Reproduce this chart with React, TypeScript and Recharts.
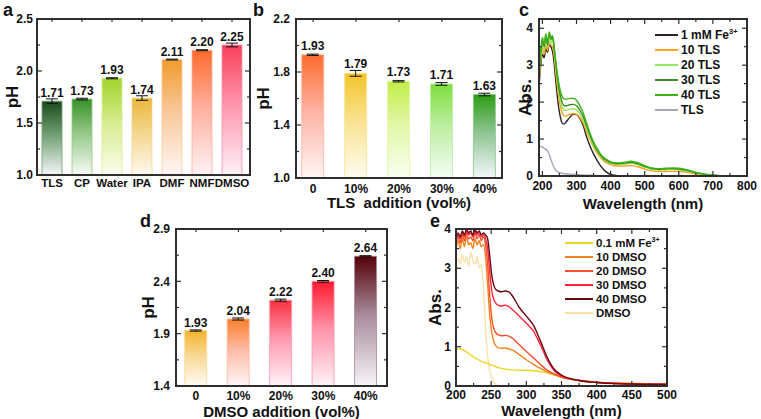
import React from "react";
import {
  BarChart,
  Bar,
  LineChart,
  Line,
  XAxis,
  YAxis,
  ErrorBar,
  LabelList,
  Cell,
  Legend,
} from "recharts";

const FONT = '"Liberation Sans", Arial, Helvetica, sans-serif';
const INK = "#111";
const FRAME = "#2e2e2e";

// a: pH of Fe3+ solution in different solvents
const SOLVENTS = ["TLS", "CP", "Water", "IPA", "DMF", "NMF", "DMSO"];
const SOLVENT_PH = [1.71, 1.73, 1.93, 1.74, 2.11, 2.2, 2.25];
const SOLVENT_ERR = [0.022, 0.008, 0.005, 0.022, 0.004, 0.005, 0.018];

// b, d: pH against co-solvent addition
const ADDITION = ["0", "10%", "20%", "30%", "40%"];
const TLS_PH = [1.93, 1.79, 1.73, 1.71, 1.63];
const TLS_ERR = [0.005, 0.022, 0.005, 0.01, 0.01];
const DMSO_PH = [1.93, 2.04, 2.22, 2.4, 2.64];
const DMSO_ERR = [0.006, 0.01, 0.01, 0.008, 0.005];

// c: UV-vis, 1 mM Fe3+ with TLS
const WL_C = [190, 195, 200, 205, 210, 215, 220, 225, 230, 235, 240, 245, 250, 255, 260, 265, 270, 280, 290, 300, 310, 320, 330, 340, 350, 360, 370, 380, 390, 400, 420, 440, 460, 480, 500, 520, 540, 560, 580, 600, 620, 640, 660, 680, 700, 720, 750, 800];
const FE_1MM = [2.4, 3.0, 3.3, 3.2, 3.45, 3.35, 3.55, 3.5, 3.35, 3.0, 2.5, 2.05, 1.72, 1.5, 1.41, 1.42, 1.47, 1.58, 1.67, 1.66, 1.55, 1.35, 1.05, 0.8, 0.6, 0.43, 0.28, 0.17, 0.09, 0.04, 0.01, 0, 0, 0, 0, 0, 0, 0, 0, 0, 0, 0, 0, 0, 0, 0, 0, 0];
const TLS_10 = [2.5, 3.1, 3.45, 3.3, 3.55, 3.4, 3.6, 3.55, 3.5, 3.2, 2.75, 2.35, 2.02, 1.8, 1.66, 1.62, 1.63, 1.67, 1.69, 1.67, 1.58, 1.42, 1.2, 0.98, 0.78, 0.62, 0.5, 0.41, 0.35, 0.31, 0.27, 0.27, 0.28, 0.25, 0.19, 0.14, 0.12, 0.12, 0.13, 0.12, 0.1, 0.07, 0.04, 0.02, 0.01, 0.01, 0.01, 0.01];
const TLS_20 = [2.6, 3.2, 3.55, 3.4, 3.7, 3.5, 3.75, 3.6, 3.7, 3.35, 2.9, 2.5, 2.18, 1.95, 1.83, 1.78, 1.78, 1.81, 1.82, 1.79, 1.68, 1.5, 1.27, 1.04, 0.83, 0.67, 0.54, 0.45, 0.39, 0.34, 0.31, 0.32, 0.34, 0.31, 0.24, 0.18, 0.16, 0.17, 0.18, 0.17, 0.14, 0.1, 0.06, 0.03, 0.02, 0.01, 0.01, 0.01];
const TLS_30 = [2.7, 3.3, 3.65, 3.5, 3.8, 3.55, 3.85, 3.7, 3.75, 3.4, 3.0, 2.6, 2.3, 2.08, 1.95, 1.9, 1.9, 1.93, 1.94, 1.9, 1.78, 1.6, 1.35, 1.1, 0.88, 0.71, 0.57, 0.47, 0.41, 0.36, 0.33, 0.35, 0.37, 0.33, 0.26, 0.2, 0.18, 0.19, 0.2, 0.19, 0.16, 0.11, 0.07, 0.04, 0.02, 0.01, 0.01, 0.01];
const TLS_40 = [2.8, 3.4, 3.75, 3.55, 3.85, 3.6, 3.9, 3.75, 3.8, 3.45, 3.05, 2.7, 2.42, 2.22, 2.12, 2.08, 2.08, 2.1, 2.1, 2.05, 1.9, 1.7, 1.42, 1.15, 0.92, 0.75, 0.6, 0.5, 0.44, 0.38, 0.35, 0.37, 0.4, 0.36, 0.28, 0.22, 0.2, 0.21, 0.22, 0.21, 0.18, 0.13, 0.08, 0.04, 0.02, 0.01, 0.01, 0.01];
const TLS_ONLY = [0.82, 0.8, 0.78, 0.75, 0.72, 0.68, 0.58, 0.45, 0.32, 0.22, 0.15, 0.11, 0.09, 0.08, 0.07, 0.06, 0.06, 0.05, 0.04, 0.04, 0.03, 0.03, 0.02, 0.02, 0.02, 0.01, 0.01, 0.01, 0.01, 0.01, 0.01, 0, 0, 0, 0, 0, 0, 0, 0, 0, 0, 0, 0, 0, 0, 0, 0, 0];
const C_NAMES = ["1 mM Fe3+", "10 TLS", "20 TLS", "30 TLS", "40 TLS", "TLS"];
const C_COLORS = ["#2e2424", "#ffa21f", "#92e860", "#3e8a26", "#3cb216", "#aaa4bc"];

// e: UV-vis, 0.1 mM Fe3+ with DMSO
const WL_E = [200, 203, 206, 209, 212, 215, 218, 221, 224, 227, 230, 233, 236, 239, 242, 245, 248, 251, 254, 257, 260, 265, 270, 275, 280, 290, 300, 310, 320, 330, 340, 350, 375, 400, 425, 450, 475, 500];
const FE_01MM = [0.95, 0.94, 0.95, 0.93, 0.9, 0.87, 0.83, 0.79, 0.75, 0.72, 0.69, 0.66, 0.63, 0.61, 0.59, 0.57, 0.55, 0.53, 0.51, 0.49, 0.47, 0.45, 0.43, 0.42, 0.41, 0.4, 0.4, 0.39, 0.37, 0.33, 0.28, 0.22, 0.14, 0.1, 0.08, 0.07, 0.06, 0.05];
const DMSO_10 = [3.45, 3.7, 3.5, 3.75, 3.55, 3.8, 3.6, 3.65, 3.5, 3.75, 3.6, 3.7, 3.55, 3.6, 3.3, 2.6, 1.8, 1.35, 1.12, 1.02, 0.97, 0.96, 0.97, 0.95, 0.92, 0.8, 0.67, 0.55, 0.45, 0.36, 0.29, 0.23, 0.15, 0.1, 0.08, 0.06, 0.05, 0.05];
const DMSO_20 = [3.6, 3.8, 3.65, 3.85, 3.7, 3.9, 3.75, 3.8, 3.7, 3.9, 3.75, 3.85, 3.7, 3.8, 3.6, 3.1, 2.3, 1.7, 1.45, 1.35, 1.3, 1.28, 1.29, 1.27, 1.22, 1.05, 0.88, 0.72, 0.55, 0.4, 0.3, 0.23, 0.14, 0.1, 0.07, 0.06, 0.05, 0.05];
const DMSO_30 = [3.7, 3.85, 3.75, 3.9, 3.8, 3.95, 3.85, 3.9, 3.8, 3.95, 3.85, 3.9, 3.8, 3.85, 3.75, 3.5, 2.9, 2.4, 2.2, 2.1, 2.06, 2.04, 2.06, 2.02, 1.95, 1.78, 1.6, 1.4, 1.05, 0.65, 0.38, 0.26, 0.14, 0.09, 0.07, 0.05, 0.05, 0.04];
const DMSO_40 = [3.75, 3.9, 3.8, 3.95, 3.85, 4.0, 3.9, 3.95, 3.85, 4.0, 3.9, 3.95, 3.85, 3.9, 3.85, 3.75, 3.3, 2.8, 2.55, 2.45, 2.42, 2.4, 2.42, 2.4, 2.3, 2.0, 1.78, 1.55, 1.15, 0.72, 0.42, 0.28, 0.14, 0.09, 0.06, 0.05, 0.04, 0.04];
const DMSO_ONLY = [2.9, 3.25, 3.1, 3.35, 3.15, 3.3, 3.05, 3.4, 3.2, 3.1, 3.3, 3.0, 3.1, 2.5, 1.5, 0.75, 0.4, 0.22, 0.1, 0.03, 0, 0, 0, 0, 0, 0, 0, 0, 0, 0, 0, 0, 0, 0, 0, 0, 0, 0];
const E_NAMES = ["0.1 mM Fe3+", "10 DMSO", "20 DMSO", "30 DMSO", "40 DMSO", "DMSO"];
const E_COLORS = ["#eed424", "#f7801e", "#f6502c", "#ff2536", "#6a0810", "#f8e0a8"];

// bar gradients: top, middle, bottom
const A_GRAD = [
  ["#1b4a1b", "#6f9f72", "#f4f7fa"],
  ["#379226", "#95c888", "#f7fbf6"],
  ["#a2d42c", "#d6ec8c", "#fcfdf2"],
  ["#e9b63a", "#f3d68e", "#fffaf0"],
  ["#f19b2c", "#f8c89a", "#fff7f4"],
  ["#fc6a2a", "#ffae9c", "#fff3f6"],
  ["#f8405a", "#ff94ac", "#fff1f8"],
];
const B_GRAD = [
  ["#fb6c2c", "#ffb2a2", "#fff5f5"],
  ["#f3c42a", "#f9e290", "#fffcf0"],
  ["#c2ee46", "#e2f7a6", "#fafff2"],
  ["#7ede3e", "#bdeea0", "#f4fff6"],
  ["#2c9c12", "#8cc490", "#f4f8fc"],
];
const D_GRAD = [
  ["#f3b42a", "#f8d894", "#fffcf4"],
  ["#f97e28", "#fcbaa2", "#fff6f8"],
  ["#f7303e", "#ff9ab0", "#fff4fa"],
  ["#ff1a2e", "#ff92a8", "#fff3fa"],
  ["#560006", "#a78a9c", "#f8f5f8"],
];

// tick labels only; the box and tick marks are drawn by FrameOverlay
function tickLabel(side: "bottom" | "left", major: number[] | null, fmt: (v: number) => string, gap: number, fontSize = 12) {
  return (props: any) => {
    const x = Number(props.x);
    const y = Number(props.y);
    const v = Number(props.payload.value);
    const isMajor = !major || major.some((m) => Math.abs(m - v) < 1e-6);
    if (!isMajor) return <g />;
    const common = { fill: INK, fontSize, fontWeight: "bold" as const, fontFamily: FONT };
    return side === "bottom" ? (
      <text x={x} y={y + gap} dy="0.71em" textAnchor="middle" {...common}>
        {fmt(v)}
      </text>
    ) : (
      <text x={x - gap} y={y} dy="0.35em" textAnchor="end" {...common}>
        {fmt(v)}
      </text>
    );
  };
}

// Origin-style box with inward ticks on all four sides
function FrameOverlay(p: {
  width: number;
  height: number;
  left: number;
  top: number;
  right: number;
  bottom: number;
  xDomain: [number, number];
  yDomain: [number, number];
  xTicks: number[];
  xMajor: number[] | null;
  yTicks: number[];
  yMajor: number[];
  bottomTicks: boolean;
}) {
  const x0 = p.left;
  const x1 = p.width - p.right;
  const y0 = p.top;
  const y1 = p.height - p.bottom;
  const sx = (v: number) => x0 + ((v - p.xDomain[0]) / (p.xDomain[1] - p.xDomain[0])) * (x1 - x0);
  const sy = (v: number) => y1 - ((v - p.yDomain[0]) / (p.yDomain[1] - p.yDomain[0])) * (y1 - y0);
  const isMaj = (list: number[] | null, v: number) => !list || list.some((m) => Math.abs(m - v) < 1e-6);
  const segs: number[][] = [];
  p.xTicks.forEach((v) => {
    const x = sx(v);
    const l = isMaj(p.xMajor, v) ? 5 : 3;
    segs.push([x, y0, x, y0 + l]);
    if (p.bottomTicks) segs.push([x, y1, x, y1 - l]);
  });
  p.yTicks.forEach((v) => {
    const y = sy(v);
    const l = isMaj(p.yMajor, v) ? 5 : 3;
    segs.push([x0, y, x0 + l, y]);
    segs.push([x1, y, x1 - l, y]);
  });
  return (
    <>
      <svg width={p.width} height={p.height} style={{ position: "absolute", left: 0, top: 0, pointerEvents: "none", zIndex: 2 }}>
        {segs.map((s, i) => (
          <line key={i} x1={s[0]} y1={s[1]} x2={s[2]} y2={s[3]} stroke={FRAME} strokeWidth={1.2} />
        ))}
      </svg>
      <div
        style={{
          position: "absolute",
          left: x0 - 1,
          top: y0 - 1,
          width: x1 - x0 + 2,
          height: y1 - y0 + 2,
          border: `2px solid ${FRAME}`,
          boxSizing: "border-box",
          pointerEvents: "none",
          zIndex: 3,
        }}
      />
    </>
  );
}

function BarPanel(props: {
  id: string;
  cats: string[];
  vals: number[];
  errs: number[];
  grads: string[][];
  width: number;
  height: number;
  top: number;
  right: number;
  yw: number;
  xh: number;
  xDomain: [number, number];
  yDomain: [number, number];
  yTicks: number[];
  yMajor: number[];
  barSize: number;
  xGap: number;
  yGap: number;
  yTitleOffset: number;
  xTitle?: string;
  xTitleOffset?: number;
  catFont?: number;
  labelOffset: number;
}) {
  const { id, cats, vals, errs, grads } = props;
  const rows = cats.map((c, i) => ({ i, name: c, v: vals[i], err: errs[i] }));
  const idx = cats.map((_, i) => i);
  return (
    <>
      <BarChart
        width={props.width}
        height={props.height}
        data={rows}
        margin={{ top: props.top, right: props.right, bottom: 0, left: 0 }}
        barSize={props.barSize}
      >
        <defs>
          {grads.map((g, i) => (
            <linearGradient key={i} id={`${id}${i}`} x1="0" y1="0" x2="0" y2="1">
              <stop offset="0" stopColor={g[0]} />
              <stop offset="0.45" stopColor={g[1]} />
              <stop offset="1" stopColor={g[2]} />
            </linearGradient>
          ))}
        </defs>
        <XAxis
          type="number"
          dataKey="i"
          domain={props.xDomain}
          ticks={idx}
          interval={0}
          height={props.xh}
          tickSize={0}
          tickMargin={0}
          tickLine={false}
          axisLine={false}
          tick={tickLabel("bottom", null, (v) => cats[v], props.xGap, props.catFont ?? 12)}
          label={
            props.xTitle
              ? {
                  value: props.xTitle,
                  position: "insideBottom",
                  offset: props.xTitleOffset ?? 4,
                  fill: INK,
                  fontSize: 15,
                  fontWeight: "bold",
                }
              : undefined
          }
        />
        <YAxis
          type="number"
          domain={props.yDomain}
          ticks={props.yTicks}
          interval={0}
          width={props.yw}
          tickSize={0}
          tickMargin={0}
          tickLine={false}
          axisLine={false}
          tick={tickLabel("left", props.yMajor, (v) => v.toFixed(1), props.yGap)}
          label={{
            value: "pH",
            angle: -90,
            position: "insideLeft",
            offset: props.yTitleOffset,
            fill: INK,
            fontSize: 17,
            fontWeight: "bold",
            style: { textAnchor: "middle" },
          }}
        />
        <Bar dataKey="v" isAnimationActive={false}>
          {rows.map((_, i) => (
            <Cell key={i} fill={`url(#${id}${i})`} stroke={grads[i][1]} strokeWidth={1} strokeOpacity={0.8} />
          ))}
          <ErrorBar dataKey="err" width={6} stroke={INK} strokeWidth={1} direction="y" />
          <LabelList
            dataKey="v"
            position="top"
            offset={props.labelOffset}
            formatter={(v: any) => Number(v).toFixed(2)}
            fill={INK}
            fontSize={12}
            fontWeight="bold"
          />
        </Bar>
      </BarChart>
      <FrameOverlay
        width={props.width}
        height={props.height}
        left={props.yw}
        top={props.top}
        right={props.right}
        bottom={props.xh}
        xDomain={props.xDomain}
        yDomain={props.yDomain}
        xTicks={idx}
        xMajor={[]}
        yTicks={props.yTicks}
        yMajor={props.yMajor}
        bottomTicks={false}
      />
    </>
  );
}

function seriesName(name: string) {
  if (name.endsWith("Fe3+")) {
    return (
      <>
        {name.slice(0, -2)}
        <sup style={{ fontSize: "0.62em", lineHeight: 0 }}>3+</sup>
      </>
    );
  }
  return name;
}

function SeriesLegend({ names, colors, rowH, lineW, fontSize }: { names: string[]; colors: string[]; rowH: number; lineW: number; fontSize: number }) {
  return (
    <div style={{ fontFamily: FONT, fontWeight: "bold", fontSize, color: INK }}>
      {names.map((n, i) => (
        <div key={n} style={{ display: "flex", alignItems: "center", height: rowH, whiteSpace: "nowrap" }}>
          <span style={{ display: "inline-block", width: lineW, borderTop: `2px solid ${colors[i]}`, marginRight: 3 }} />
          <span>{seriesName(n)}</span>
        </div>
      ))}
    </div>
  );
}

function SpectrumPanel(props: {
  wl: number[];
  series: number[][];
  names: string[];
  colors: string[];
  order: number[];
  width: number;
  height: number;
  top: number;
  right: number;
  yw: number;
  xh: number;
  xDomain: [number, number];
  xTicks: number[];
  xMajor: number[];
  yDomain: [number, number];
  yTicks: number[];
  yMajor: number[];
  xGap: number;
  yGap: number;
  yTitleOffset: number;
  xTitleOffset: number;
  legendLeft: number;
  legendTop: number;
  legendRow: number;
  legendLine: number;
  legendFont: number;
}) {
  const rows = props.wl.map((w, k) => {
    const r: Record<string, number> = { wl: w };
    props.series.forEach((s, j) => {
      r[`s${j}`] = s[k];
    });
    return r;
  });
  return (
    <>
      <LineChart
        width={props.width}
        height={props.height}
        data={rows}
        margin={{ top: props.top, right: props.right, bottom: 0, left: 0 }}
      >
        <XAxis
          type="number"
          dataKey="wl"
          domain={props.xDomain}
          ticks={props.xTicks}
          interval={0}
          height={props.xh}
          tickSize={0}
          tickMargin={0}
          tickLine={false}
          axisLine={false}
          tick={tickLabel("bottom", props.xMajor, (v) => String(v), props.xGap)}
          label={{
            value: "Wavelength (nm)",
            position: "insideBottom",
            offset: props.xTitleOffset,
            fill: INK,
            fontSize: 15,
            fontWeight: "bold",
          }}
        />
        <YAxis
          type="number"
          domain={props.yDomain}
          ticks={props.yTicks}
          interval={0}
          width={props.yw}
          tickSize={0}
          tickMargin={0}
          tickLine={false}
          axisLine={false}
          tick={tickLabel("left", props.yMajor, (v) => String(v), props.yGap)}
          label={{
            value: "Abs.",
            angle: -90,
            position: "insideLeft",
            offset: props.yTitleOffset,
            fill: INK,
            fontSize: 17,
            fontWeight: "bold",
            style: { textAnchor: "middle" },
          }}
        />
        {props.order.map((j) => (
          <Line
            key={j}
            type="monotone"
            dataKey={`s${j}`}
            name={props.names[j]}
            stroke={props.colors[j]}
            strokeWidth={1.4}
            dot={false}
            isAnimationActive={false}
          />
        ))}
        <Legend
          layout="vertical"
          align="center"
          verticalAlign="middle"
          wrapperStyle={{ left: props.legendLeft, top: props.legendTop, width: "auto" }}
          content={() => (
            <SeriesLegend
              names={props.names}
              colors={props.colors}
              rowH={props.legendRow}
              lineW={props.legendLine}
              fontSize={props.legendFont}
            />
          )}
        />
      </LineChart>
      <FrameOverlay
        width={props.width}
        height={props.height}
        left={props.yw}
        top={props.top}
        right={props.right}
        bottom={props.xh}
        xDomain={props.xDomain}
        yDomain={props.yDomain}
        xTicks={props.xTicks}
        xMajor={props.xMajor}
        yTicks={props.yTicks}
        yMajor={props.yMajor}
        bottomTicks={true}
      />
    </>
  );
}

function PanelLetter({ ch, left, top }: { ch: string; left: number; top: number }) {
  return (
    <div style={{ position: "absolute", left, top, fontSize: 18, fontWeight: "bold", lineHeight: 1, fontFamily: FONT, color: INK }}>
      {ch}
    </div>
  );
}

function Place({ left, top, children }: { left: number; top: number; children: React.ReactNode }) {
  return <div style={{ position: "absolute", left, top }}>{children}</div>;
}

export default function App() {
  return (
    <div
      style={{
        position: "absolute",
        left: 0,
        top: 0,
        width: 761,
        height: 419,
        background: "#fff",
        fontFamily: FONT,
        color: INK,
      }}
    >
      <Place left={0} top={0}>
        <BarPanel
          id="ga"
          cats={SOLVENTS}
          vals={SOLVENT_PH}
          errs={SOLVENT_ERR}
          grads={A_GRAD}
          width={256}
          height={200}
          top={19}
          right={6}
          yw={37}
          xh={25}
          xDomain={[-0.5, 6.6]}
          yDomain={[1, 2.5]}
          yTicks={[1, 1.25, 1.5, 1.75, 2, 2.25, 2.5]}
          yMajor={[1, 1.5, 2, 2.5]}
          barSize={20}
          xGap={4}
          yGap={4}
          yTitleOffset={12}
          catFont={11.5}
          labelOffset={4}
        />
      </Place>
      <Place left={250} top={0}>
        <BarPanel
          id="gb"
          cats={ADDITION}
          vals={TLS_PH}
          errs={TLS_ERR}
          grads={B_GRAD}
          width={256}
          height={212}
          top={19}
          right={4}
          yw={46}
          xh={34}
          xDomain={[-0.4, 4.4]}
          yDomain={[1, 2.2]}
          yTicks={[1, 1.2, 1.4, 1.6, 1.8, 2, 2.2]}
          yMajor={[1, 1.4, 1.8, 2.2]}
          barSize={22}
          xGap={6}
          yGap={6}
          yTitleOffset={13}
          xTitle={"TLS\u00a0 addition (vol%)"}
          xTitleOffset={4}
          labelOffset={5}
        />
      </Place>
      <Place left={506} top={0}>
        <SpectrumPanel
          wl={WL_C}
          series={[FE_1MM, TLS_10, TLS_20, TLS_30, TLS_40, TLS_ONLY]}
          names={C_NAMES}
          colors={C_COLORS}
          order={[5, 0, 1, 2, 3, 4]}
          width={255}
          height={212}
          top={19}
          right={14}
          yw={33}
          xh={36}
          xDomain={[190, 800]}
          xTicks={[200, 250, 300, 350, 400, 450, 500, 550, 600, 650, 700, 750, 800]}
          xMajor={[200, 300, 400, 500, 600, 700, 800]}
          yDomain={[0, 4.25]}
          yTicks={[0, 0.5, 1, 1.5, 2, 2.5, 3, 3.5, 4]}
          yMajor={[0, 1, 2, 3, 4]}
          xGap={5}
          yGap={6}
          yTitleOffset={19}
          xTitleOffset={3}
          legendLeft={149}
          legendTop={27}
          legendRow={15}
          legendLine={23}
          legendFont={12}
        />
      </Place>
      <Place left={130} top={210}>
        <BarPanel
          id="gd"
          cats={ADDITION}
          vals={DMSO_PH}
          errs={DMSO_ERR}
          grads={D_GRAD}
          width={262}
          height={209}
          top={19}
          right={5}
          yw={46}
          xh={33}
          xDomain={[-0.47, 4.5]}
          yDomain={[1.4, 2.9]}
          yTicks={[1.4, 1.65, 1.9, 2.15, 2.4, 2.65, 2.9]}
          yMajor={[1.4, 1.9, 2.4, 2.9]}
          barSize={22}
          xGap={5}
          yGap={6}
          yTitleOffset={18}
          xTitle="DMSO addition (vol%)"
          xTitleOffset={2}
          labelOffset={4}
        />
      </Place>
      <Place left={410} top={210}>
        <SpectrumPanel
          wl={WL_E}
          series={[FE_01MM, DMSO_10, DMSO_20, DMSO_30, DMSO_40, DMSO_ONLY]}
          names={E_NAMES}
          colors={E_COLORS}
          order={[5, 0, 1, 2, 3, 4]}
          width={280}
          height={209}
          top={19}
          right={23}
          yw={46}
          xh={33}
          xDomain={[200, 500]}
          xTicks={[200, 225, 250, 275, 300, 325, 350, 375, 400, 425, 450, 475, 500]}
          xMajor={[200, 250, 300, 350, 400, 450, 500]}
          yDomain={[0, 4]}
          yTicks={[0, 0.5, 1, 1.5, 2, 2.5, 3, 3.5, 4]}
          yMajor={[0, 1, 2, 3, 4]}
          xGap={4}
          yGap={5}
          yTitleOffset={25}
          xTitleOffset={3}
          legendLeft={155}
          legendTop={26}
          legendRow={14}
          legendLine={28}
          legendFont={11.5}
        />
      </Place>
      <PanelLetter ch="a" left={3} top={1} />
      <PanelLetter ch="b" left={253} top={1} />
      <PanelLetter ch="c" left={519} top={1} />
      <PanelLetter ch="d" left={140} top={212} />
      <PanelLetter ch="e" left={430} top={212} />
    </div>
  );
}
